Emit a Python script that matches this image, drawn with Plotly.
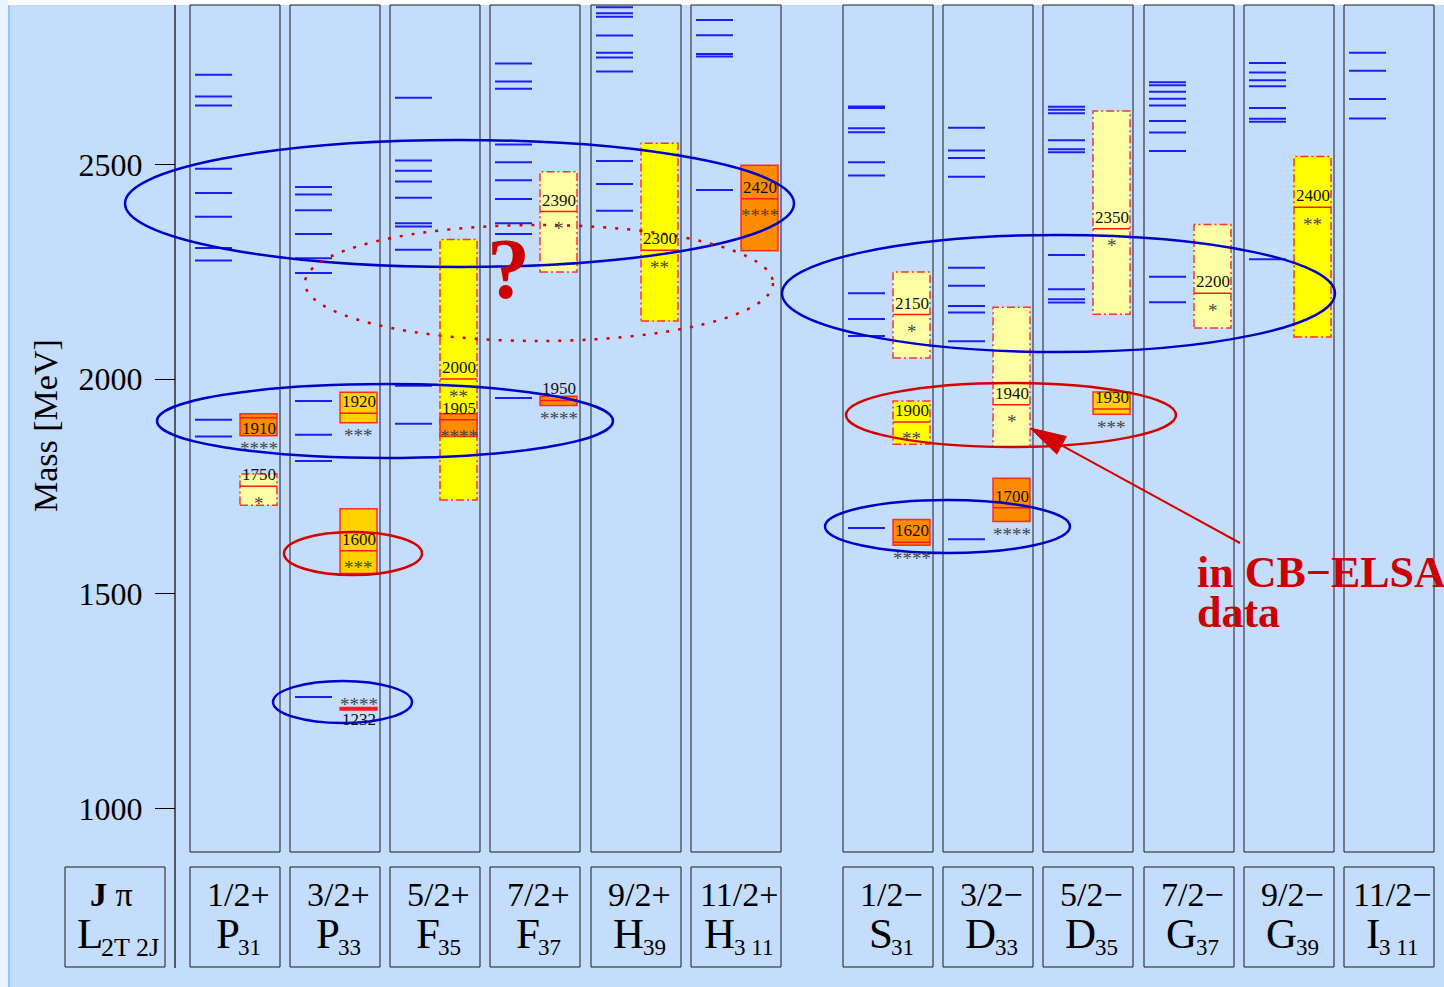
import plotly.graph_objects as go

# ---------------------------------------------------------------------------
# Delta-resonance spectrum: quark-model masses (blue bars) per partial wave
# and PDG resonances (boxes: mass range, central mass, star rating)
# ---------------------------------------------------------------------------
jpi_labels = ["1/2+", "3/2+", "5/2+", "7/2+", "9/2+", "11/2+",
              "1/2−", "3/2−", "5/2−", "7/2−", "9/2−", "11/2−"]
wave_letters = ["P", "P", "F", "F", "H", "H", "S", "D", "D", "G", "G", "I"]
wave_subscripts = ["31", "33", "35", "37", "39", "3 11",
                   "31", "33", "35", "37", "39", "3 11"]

# model masses in MeV, one list per partial wave
model_masses = [
    [2709, 2658, 2637, 2490, 2433, 2378, 2305, 2276, 1905, 1866],          # P31
    [2447, 2430, 2393, 2338, 2281, 2247, 1949, 1870, 1809, 1259],          # P33
    [2655, 2509, 2485, 2460, 2422, 2363, 2355, 2301, 1984, 1896],          # F35
    [2735, 2693, 2676, 2546, 2505, 2463, 2419, 2363, 2338, 1956],          # F37
    [2866, 2852, 2844, 2800, 2760, 2749, 2716, 2508, 2454, 2392],          # H39
    [2836, 2801, 2757, 2751, 2440],                                        # H3,11
    [2635, 2631, 2584, 2575, 2505, 2474, 2200, 2140, 2100, 1653],          # S31
    [2585, 2532, 2515, 2471, 2259, 2217, 2170, 2155, 2088, 1627],          # D33
    [2634, 2627, 2619, 2556, 2535, 2528, 2289, 2209, 2186, 2178],          # D35
    [2691, 2684, 2669, 2653, 2637, 2601, 2574, 2531, 2238, 2179],          # G37
    [2736, 2714, 2696, 2682, 2631, 2606, 2599, 2279],                      # G39
    [2760, 2718, 2652, 2607],                                              # I3,11
]

# PDG resonances: partial-wave index, central mass, mass range, stars
pdg_wave = [0, 0, 1, 1, 1, 2, 2, 3, 3, 4, 5, 6, 6, 6, 7, 7, 8, 8, 9, 10]
pdg_mass = [1910, 1750, 1920, 1600, 1232, 2000, 1905, 1950, 2390, 2300,
            2420, 2150, 1900, 1620, 1940, 1700, 2350, 1930, 2200, 2400]
pdg_low = [1868, 1706, 1898, 1547, 1229, 1718, 1866, 1938, 2249, 2135,
           2299, 2049, 1848, 1613, 1841, 1668, 2151, 1918, 2119, 2098]
pdg_high = [1919, 1779, 1969, 1698, 1235, 2325, 1919, 1960, 2483, 2549,
            2498, 2249, 1949, 1673, 2167, 1769, 2624, 1970, 2360, 2518]
pdg_stars = [4, 1, 3, 3, 4, 2, 4, 4, 1, 2, 4, 1, 2, 4, 1, 4, 1, 3, 1, 2]

mass_ticks = [1000, 1500, 2000, 2500]

# ---------------------------------------------------------------------------
# page geometry (pixels)
# ---------------------------------------------------------------------------
W, H = 1444, 987
PX_PER_MEV = 0.4293
Y_2000 = 379.0
COL_LEFT = [190, 290, 390, 490, 591, 691, 843, 943, 1043, 1144, 1244, 1344]
COL_W = 90
COL_TOP, COL_BOT = 5, 852
HDR_TOP, HDR_BOT = 867, 967
AXIS_X = 175

BG = "#C4DDFC"
MODEL_BLUE = "#1E1EF2"
ELL_BLUE = "#0000C8"
RED = "#D20000"
SERIF = "Liberation Serif, Times New Roman, serif"
FILL = {4: "#FF8C00", 3: "#FFD200", 2: "#FFFF00", 1: "#FFFFA3"}


def mass_at(py):
    return 2000.0 + (Y_2000 - py) / PX_PER_MEV


def pyp(py):
    """pixel row -> paper fraction"""
    return 1.0 - py / H


fig = go.Figure()
shapes = []
annotations = []

# page frame: white top band and left margin with a thin blue edge
shapes.append(dict(type="rect", xref="x", yref="paper", x0=0, x1=W,
                   y0=pyp(5), y1=1, fillcolor="white", line_width=0, layer="below"))
shapes.append(dict(type="rect", xref="x", yref="paper", x0=0, x1=8,
                   y0=0, y1=1, fillcolor="#EAF4FF", line_width=0, layer="below"))
shapes.append(dict(type="line", xref="x", yref="paper", x0=9, x1=9,
                   y0=0, y1=pyp(5), line=dict(color="#8CCBF6", width=2)))

# mass axis line
shapes.append(dict(type="line", xref="x", yref="paper", x0=AXIS_X, x1=AXIS_X,
                   y0=pyp(968), y1=pyp(COL_TOP), line=dict(color="black", width=1.2)))

# partial-wave columns and header boxes
for i, x0 in enumerate(COL_LEFT):
    shapes.append(dict(type="rect", xref="x", yref="paper", x0=x0, x1=x0 + COL_W,
                       y0=pyp(COL_BOT), y1=pyp(COL_TOP),
                       line=dict(color="#1A1A1A", width=1)))
    shapes.append(dict(type="rect", xref="x", yref="paper", x0=x0, x1=x0 + COL_W,
                       y0=pyp(HDR_BOT), y1=pyp(HDR_TOP),
                       line=dict(color="#1A1A1A", width=1)))
shapes.append(dict(type="rect", xref="x", yref="paper", x0=65, x1=165,
                   y0=pyp(HDR_BOT), y1=pyp(HDR_TOP),
                   line=dict(color="#1A1A1A", width=1)))

# header texts
LETTER_EM = {"P": 0.556, "F": 0.556, "H": 0.722, "S": 0.556, "D": 0.722,
             "G": 0.722, "I": 0.333}
LETTER_PX, SUB_PX, JP_PX = 43, 23, 34


def sub_width(s):
    return sum(0.25 if ch == " " else 0.5 for ch in s) * SUB_PX


for i, x0 in enumerate(COL_LEFT):
    cc = x0 + COL_W / 2 + 3
    annotations.append(dict(x=cc, y=pyp(894), xref="x", yref="paper",
                            text=jpi_labels[i], showarrow=False,
                            font=dict(family=SERIF, size=JP_PX, color="black"),
                            xanchor="center", yanchor="middle"))
    lw = LETTER_EM[wave_letters[i]] * LETTER_PX
    gw = lw + sub_width(wave_subscripts[i])
    left = cc - gw / 2
    annotations.append(dict(x=left, y=pyp(933), xref="x", yref="paper",
                            text=wave_letters[i], showarrow=False,
                            font=dict(family=SERIF, size=LETTER_PX, color="black"),
                            xanchor="left", yanchor="middle", borderpad=0))
    annotations.append(dict(x=left + lw - 1, y=pyp(947), xref="x", yref="paper",
                            text=wave_subscripts[i], showarrow=False,
                            font=dict(family=SERIF, size=SUB_PX, color="black"),
                            xanchor="left", yanchor="middle", borderpad=0))

# legend header: J pi / L_{2T 2J}
annotations.append(dict(x=111, y=pyp(894), xref="x", yref="paper", text="<b>J</b> π",
                        showarrow=False, font=dict(family=SERIF, size=JP_PX, color="black"),
                        xanchor="center", yanchor="middle"))
annotations.append(dict(x=76, y=pyp(933), xref="x", yref="paper", text="L",
                        showarrow=False, font=dict(family=SERIF, size=LETTER_PX, color="black"),
                        xanchor="left", yanchor="middle", borderpad=0))
annotations.append(dict(x=100, y=pyp(947), xref="x", yref="paper", text="2T 2J",
                        showarrow=False, font=dict(family=SERIF, size=26, color="black"),
                        xanchor="left", yanchor="middle", borderpad=0))

# axis title
annotations.append(dict(x=45, y=pyp(426), xref="x", yref="paper", text="Mass [MeV]",
                        showarrow=False, textangle=-90,
                        font=dict(family=SERIF, size=34, color="black"),
                        xanchor="center", yanchor="middle"))

# model states as short horizontal bars
mx, my = [], []
for i, masses in enumerate(model_masses):
    x0 = COL_LEFT[i] + 5
    for m in masses:
        mx += [x0, x0 + 37, None]
        my += [m, m, None]
fig.add_trace(go.Scatter(x=mx, y=my, mode="lines",
                         line=dict(color=MODEL_BLUE, width=2),
                         hoverinfo="skip", showlegend=False))

# PDG resonance boxes
for k in range(len(pdg_mass)):
    x0 = COL_LEFT[pdg_wave[k]] + 50
    x1 = x0 + 37
    xc = (x0 + x1) / 2
    s = pdg_stars[k]
    m, lo, hi = pdg_mass[k], pdg_low[k], pdg_high[k]
    border = dict(color="rgba(255,20,20,0.85)", width=1.5,
                  dash="solid" if s >= 3 else "8px,3px,2px,3px")
    shapes.append(dict(type="rect", xref="x", yref="y", x0=x0, x1=x1, y0=lo, y1=hi,
                       fillcolor=FILL[s], line=border))
    shapes.append(dict(type="line", xref="x", yref="y", x0=x0, x1=x1, y0=m, y1=m,
                       line=dict(color="#FF1A1A", width=1.5 if m != 1232 else 3)))

    below_px = (m - lo) * PX_PER_MEV   # room under the central line
    if m == 1232:
        label_shift, star_y, star_shift = -11, m, 8.5
    elif m == 1910:
        label_shift, star_y, star_shift = -10.5, lo, -8.5
    else:
        label_shift = 11.5
        if below_px > 15:
            star_y, star_shift = m, -13
        else:
            star_y, star_shift = lo, -9
    annotations.append(dict(x=xc, y=m, xref="x", yref="y", text=str(m),
                            showarrow=False, yshift=label_shift,
                            font=dict(family=SERIF, size=17, color="#111111"),
                            xanchor="center", yanchor="middle", borderpad=0))
    annotations.append(dict(x=xc, y=star_y, xref="x", yref="y", text="*" * s,
                            showarrow=False, yshift=star_shift - 4,
                            font=dict(family=SERIF, size=19, color="#454545"),
                            xanchor="center", yanchor="middle", borderpad=0))

# ellipses grouping model states with observed resonances
blue_ellipses = [(125, 140, 794, 267), (157, 384, 613, 458), (273, 681, 412, 723),
                 (782, 235, 1335, 352), (825, 500, 1070, 553)]
red_ellipses = [(284, 532, 422, 575), (846, 383, 1176, 447)]
for (x0, y0, x1, y1) in blue_ellipses:
    shapes.append(dict(type="circle", xref="x", yref="paper", x0=x0, x1=x1,
                       y0=pyp(y1), y1=pyp(y0), line=dict(color=ELL_BLUE, width=2.5)))
for (x0, y0, x1, y1) in red_ellipses:
    shapes.append(dict(type="circle", xref="x", yref="paper", x0=x0, x1=x1,
                       y0=pyp(y1), y1=pyp(y0), line=dict(color=RED, width=2.5)))
shapes.append(dict(type="circle", xref="x", yref="paper", x0=305, x1=773,
                   y0=pyp(341), y1=pyp(225),
                   line=dict(color=RED, width=2.5, dash="3px,9px")))

# arrow to the CB-ELSA states
tip = (1030, 428)
tail = (1240, 543)
dx, dy = tip[0] - tail[0], tip[1] - tail[1]
ln = (dx * dx + dy * dy) ** 0.5
ux, uy = dx / ln, dy / ln
head_len, head_half = 36, 10
bx, by = tip[0] - head_len * ux, tip[1] - head_len * uy
px_, py_ = -uy, ux
p1 = (bx + head_half * px_, by + head_half * py_)
p2 = (bx - head_half * px_, by - head_half * py_)
shapes.append(dict(type="line", xref="x", yref="paper", x0=tail[0], y0=pyp(tail[1]),
                   x1=bx, y1=pyp(by), line=dict(color=RED, width=2)))
shapes.append(dict(type="path", xref="x", yref="paper",
                   path=(f"M {tip[0]},{pyp(tip[1])} L {p1[0]},{pyp(p1[1])} "
                         f"L {p2[0]},{pyp(p2[1])} Z"),
                   fillcolor=RED, line=dict(color=RED, width=1)))

annotations.append(dict(x=1196, y=pyp(572), xref="x", yref="paper",
                        text="<b>in CB−ELSA</b>", showarrow=False,
                        font=dict(family=SERIF, size=44, color="#CC0000"),
                        xanchor="left", yanchor="middle", borderpad=0))
annotations.append(dict(x=1196, y=pyp(612), xref="x", yref="paper",
                        text="<b>data</b>", showarrow=False,
                        font=dict(family=SERIF, size=44, color="#CC0000"),
                        xanchor="left", yanchor="middle", borderpad=0))
annotations.append(dict(x=508, y=pyp(269), xref="x", yref="paper",
                        text="<b>?</b>", showarrow=False,
                        font=dict(family=SERIF, size=86, color="#CC0000"),
                        xanchor="center", yanchor="middle", borderpad=0))

fig.update_layout(
    width=W, height=H,
    margin=dict(l=0, r=0, t=0, b=0),
    paper_bgcolor=BG, plot_bgcolor=BG,
    showlegend=False,
    xaxis=dict(range=[0, W], visible=False, fixedrange=True),
    yaxis=dict(range=[mass_at(H), mass_at(0)], anchor="free", position=AXIS_X / W,
               showgrid=False, zeroline=False, showline=False,
               tickvals=mass_ticks, ticktext=[str(t) for t in mass_ticks],
               ticks="outside", ticklen=20, tickwidth=1, tickcolor="black",
               ticklabelstandoff=6,
               tickfont=dict(family=SERIF, size=32, color="black")),
    shapes=shapes,
    annotations=annotations,
)

fig.write_html("out.html")
